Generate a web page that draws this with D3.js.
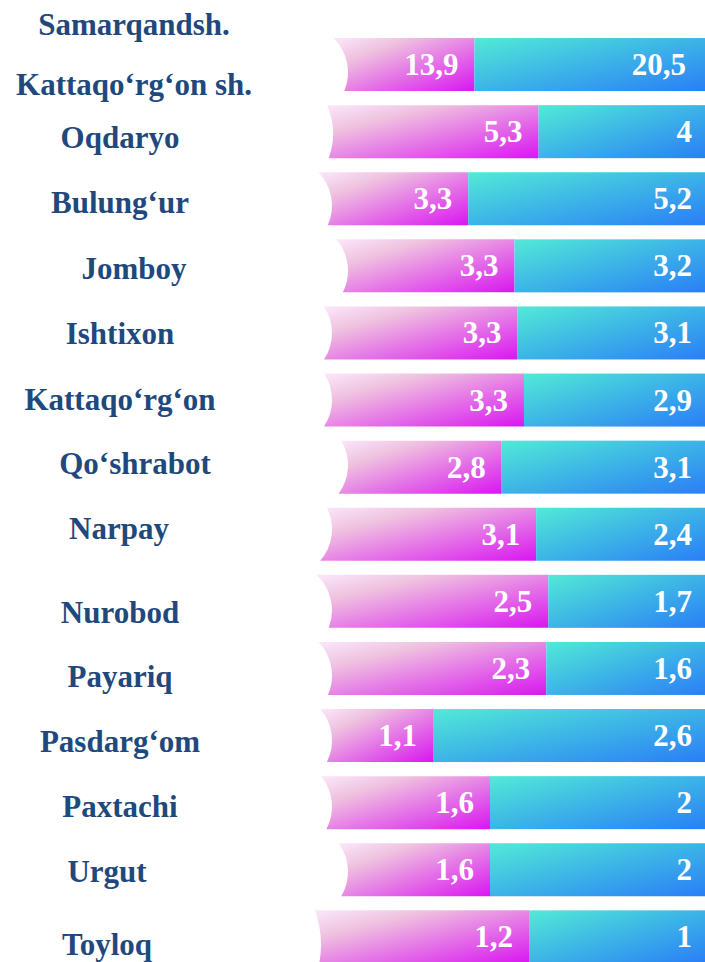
<!DOCTYPE html>
<html>
<head>
<meta charset="utf-8">
<script src="https://cdn.jsdelivr.net/npm/d3@7"></script>
<style>
  body { margin: 0; background: #fff; }
  text { font-family: "Liberation Serif", "Times New Roman", serif; font-weight: bold; }
</style>
</head>
<body>
<script>
// district names (first row carries two city names)
var categories = ["Samarqandsh.\nKattaqo‘rg‘on sh.", "Oqdaryo", "Bulung‘ur", "Jomboy", "Ishtixon",
  "Kattaqo‘rg‘on", "Qo‘shrabot", "Narpay", "Nurobod", "Payariq", "Pasdarg‘om",
  "Paxtachi", "Urgut", "Toyloq"];
// pink part (left) and blue part (right)
var pinkValues = [13.9, 5.3, 3.3, 3.3, 3.3, 3.3, 2.8, 3.1, 2.5, 2.3, 1.1, 1.6, 1.6, 1.2];
var blueValues = [20.5, 4, 5.2, 3.2, 3.1, 2.9, 3.1, 2.4, 1.7, 1.6, 2.6, 2, 2, 1];

// decoration only: the curved cut on the left end of each ribbon (d = depth, s = vertical shift, r = radius)
var notches = [
  {d: 30, s: 8, r: 48}, {d: 15, s: 2, r: 72}, {d: 14, s: 7, r: 48}, {d: 30, s: 5, r: 48},
  {d: 14, s: 0, r: 48}, {d: 14, s: 0, r: 48}, {d: 30, s: -2, r: 48}, {d: 14, s: -5, r: 48},
  {d: 14, s: 9, r: 48}, {d: 14, s: 7, r: 48}, {d: 14, s: 5, r: 48}, {d: 14, s: 4, r: 48},
  {d: 30, s: 2, r: 48}, {d: 3, s: 8, r: 100}
];
// decoration only: name label nudges as placed in the original
var labelDx = [14, 0, 0, 14, 0, 0, 15, -1, 0, 0, 0, 0, -13, -13];
var labelDy = [-29.5, 16.5, 14.5, 13.5, 11.5, 9.5, 6.5, 4.5, 21.5, 19, 16.5, 14.5, 12.5, 18.5];

var W = 705, H = 962;
var svg = d3.select("body").append("svg").attr("width", W).attr("height", H);

var fmt = d3.formatLocale({decimal: ",", thousands: " ", grouping: [3], currency: ["", ""]}).format("");

var rows = categories.map(function(c, i) { return {cat: c, a: pinkValues[i], b: blueValues[i]}; });
var series = d3.stack().keys(["a", "b"]).offset(d3.stackOffsetExpand)(rows);

var y = d3.scaleBand().domain(d3.range(rows.length)).range([31, 31 + 67.1 * rows.length])
  .paddingInner(0.21).paddingOuter(0.105);
var x = d3.scaleLinear().domain([0, 1]).range([318, W]);

var defs = svg.append("defs");
function grad(id, stops) {
  var g = defs.append("linearGradient").attr("id", id)
    .attr("x1", 0).attr("y1", 0).attr("x2", 1).attr("y2", 1);
  stops.forEach(function(s) { g.append("stop").attr("offset", s[0]).attr("stop-color", s[1]); });
}
grad("pinkGrad", [[0, "#fbe8fb"], [0.26, "#efc2df"], [0.56, "#e57be6"], [1, "#d916f0"]]);
grad("blueGrad", [[0, "#52eAd6"], [0.5, "#3cb4e7"], [1, "#2a7ef7"]]);

function pinkPath(d, i) {
  var y0 = y(i), y1 = y0 + y.bandwidth();
  var n = notches[i];
  var cx = x(0) + n.d - n.r, cy = (y0 + y1) / 2 + n.s;
  var xt = cx + Math.sqrt(Math.max(0, n.r * n.r - (y0 - cy) * (y0 - cy)));
  var xb = cx + Math.sqrt(Math.max(0, n.r * n.r - (y1 - cy) * (y1 - cy)));
  var p = d3.path();
  p.moveTo(xt, y0);
  p.lineTo(x(d[1]), y0);
  p.lineTo(x(d[1]), y1);
  p.lineTo(xb, y1);
  p.arc(cx, cy, n.r, Math.atan2(y1 - cy, xb - cx), Math.atan2(y0 - cy, xt - cx), true);
  p.closePath();
  return p.toString();
}

// pink segments
svg.append("g").selectAll("path")
  .data(series[0])
  .enter().append("path")
  .attr("d", pinkPath)
  .attr("fill", "url(#pinkGrad)");

// blue segments
svg.append("g").selectAll("rect")
  .data(series[1])
  .enter().append("rect")
  .attr("x", function(d) { return x(d[0]); })
  .attr("y", function(d, i) { return y(i); })
  .attr("width", function(d) { return x(d[1]) - x(d[0]); })
  .attr("height", y.bandwidth())
  .attr("fill", "url(#blueGrad)");

// value labels
var vals = svg.append("g").attr("fill", "#fff").attr("font-size", 31).attr("text-anchor", "end");
vals.selectAll("text.p")
  .data(series[0])
  .enter().append("text").attr("class", "p")
  .attr("x", function(d) { return x(d[1]) - 16; })
  .attr("y", function(d, i) { return y(i) + y.bandwidth() / 2 + 10.5; })
  .text(function(d, i) { return fmt(pinkValues[i]); });
vals.selectAll("text.b")
  .data(series[1])
  .enter().append("text").attr("class", "b")
  .attr("x", function(d, i) { return x(1) - (i === 0 ? 19 : 13); })
  .attr("y", function(d, i) { return y(i) + y.bandwidth() / 2 + 10.5; })
  .text(function(d, i) { return fmt(blueValues[i]); });

// district names
var names = svg.append("g").attr("fill", "#1F497D").attr("font-size", 31).attr("text-anchor", "middle");
names.selectAll("text")
  .data(rows)
  .enter().append("text")
  .attr("x", function(d, i) { return 120 + labelDx[i]; })
  .attr("y", function(d, i) { return y(i) + y.bandwidth() / 2 + labelDy[i]; })
  .each(function(d, i) {
    var t = d3.select(this);
    d.cat.split("\n").forEach(function(line, k) {
      t.append("tspan").attr("x", 120 + labelDx[i]).attr("dy", k === 0 ? 0 : 60).text(line);
    });
  });
</script>
</body>
</html>
